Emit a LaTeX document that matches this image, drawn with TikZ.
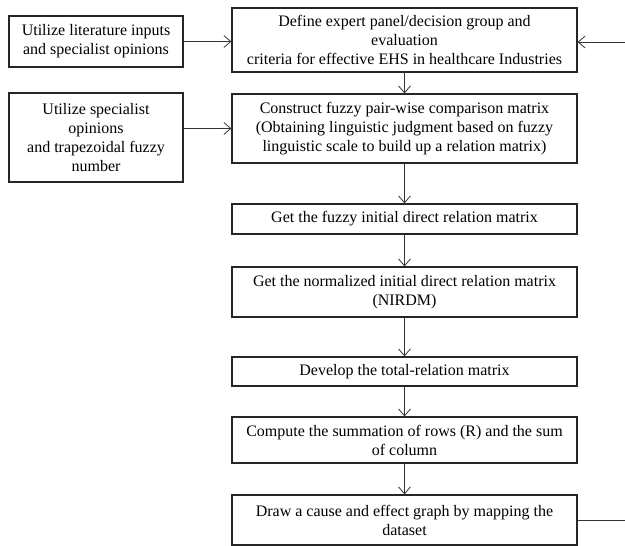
\documentclass[tikz,border=0pt]{standalone}
\usepackage{fontspec}
\setmainfont{Liberation Serif}
\usetikzlibrary{arrows.meta}
\begin{document}
\begin{tikzpicture}[x=1pt,y=-1pt,
  box/.style={draw=black!85,line width=1.2pt,inner sep=0pt,align=center,
    font=\fontsize{16}{19}\selectfont},
  arr/.style={draw=black!80,line width=0.8pt,-{Straight Barb[length=7pt,width=12pt]}},
  ln/.style={draw=black!80,line width=0.8pt}]
\useasboundingbox (0,0) rectangle (625,546);
\node[box,minimum width=174pt,minimum height=51pt] (L1) at (96,41.5)
  {Utilize literature inputs\\and specialist opinions};
\node[box,minimum width=174pt,minimum height=89pt] (L2) at (96,137.5)
  {Utilize specialist\\opinions\\and trapezoidal fuzzy\\number};
\node[box,minimum width=345pt,minimum height=64pt] (M1) at (404.5,40)
  {Define expert panel/decision group and\\evaluation\\criteria for effective EHS in healthcare Industries};
\node[box,minimum width=345pt,minimum height=69pt] (M2) at (404.5,128.5)
  {Construct fuzzy pair-wise comparison matrix\\(Obtaining linguistic judgment based on fuzzy\\linguistic scale to build up a relation matrix)};
\node[box,minimum width=345pt,minimum height=30pt] (M3) at (404.5,219)
  {Get the fuzzy initial direct relation matrix};
\node[box,minimum width=345pt,minimum height=50pt] (M4) at (404.5,292)
  {Get the normalized initial direct relation matrix\\(NIRDM)};
\node[box,minimum width=345pt,minimum height=29pt] (M5) at (404.5,371.5)
  {Develop the total-relation matrix};
\node[box,minimum width=345pt,minimum height=46pt] (M6) at (404.5,440)
  {Compute the summation of rows (R) and the sum\\of column};
\node[box,minimum width=345pt,minimum height=50pt] (M7) at (404.5,520)
  {Draw a cause and effect graph by mapping the\\dataset};
\coordinate (FB1) at (625,520);
\coordinate (FB2) at (625,42);
\draw[arr] (L1.east) -- (L1.east -| M1.west);
\draw[arr] (M2.west -| L2.east) -- (M2.west);
\draw[arr] (M1) -- (M2);
\draw[arr] (M2) -- (M3);
\draw[arr] (M3) -- (M4);
\draw[arr] (M4) -- (M5);
\draw[arr] (M5) -- (M6);
\draw[arr] (M6) -- (M7);
\draw[ln] (M7.east) -- (FB1);
\draw[arr] (FB2) -- (FB2 -| M1.east);
\end{tikzpicture}
\end{document}
